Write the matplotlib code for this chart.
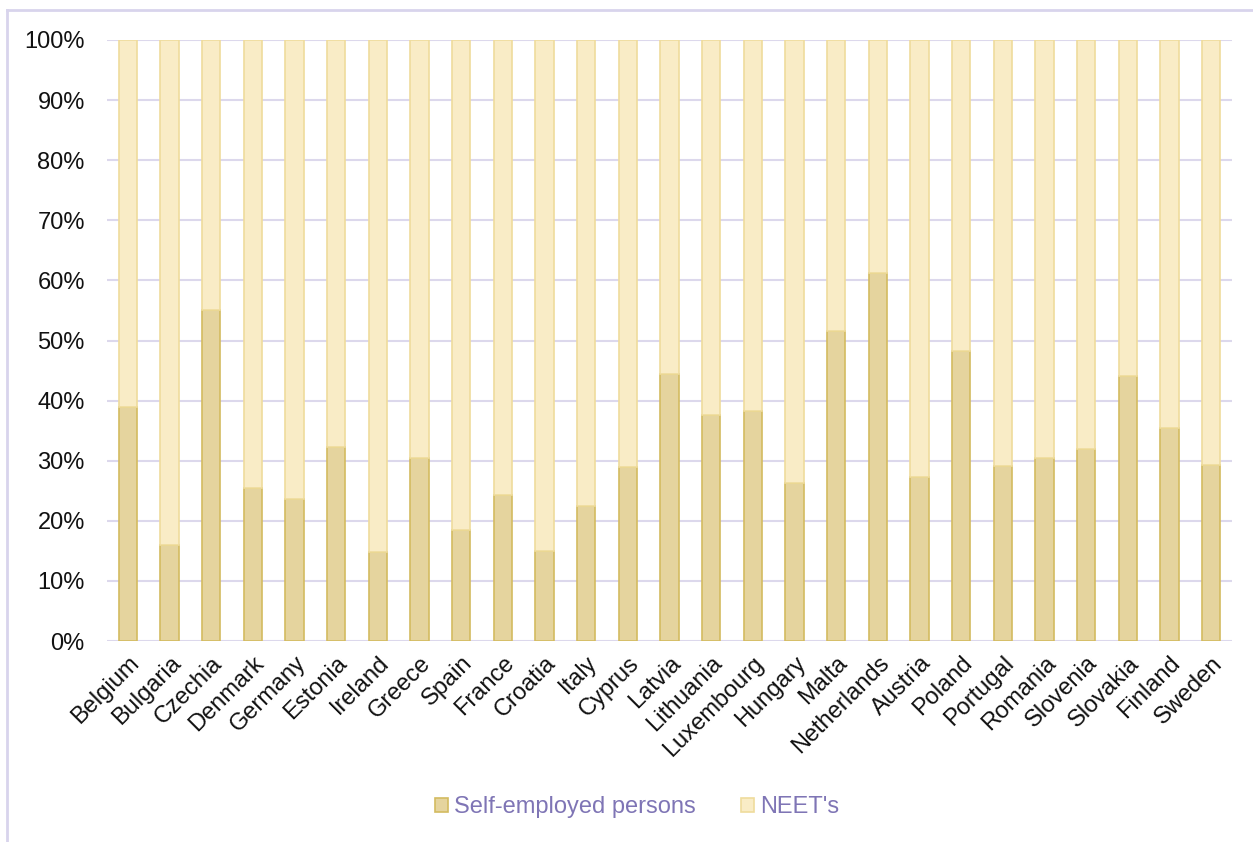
import numpy as np
import matplotlib.pyplot as plt
from matplotlib.lines import Line2D
from matplotlib.patches import Patch

plt.rcParams['font.family'] = ['Liberation Sans', 'DejaVu Sans']

countries = ['Belgium', 'Bulgaria', 'Czechia', 'Denmark', 'Germany', 'Estonia',
             'Ireland', 'Greece', 'Spain', 'France', 'Croatia', 'Italy', 'Cyprus',
             'Latvia', 'Lithuania', 'Luxembourg', 'Hungary', 'Malta', 'Netherlands',
             'Austria', 'Poland', 'Portugal', 'Romania', 'Slovenia', 'Slovakia',
             'Finland', 'Sweden']
self_employed = [38.9, 15.9, 55.0, 25.5, 23.6, 32.2, 14.8, 30.4, 18.5, 24.3,
                 14.9, 22.4, 29.0, 44.4, 37.6, 38.3, 26.3, 51.5, 61.3, 27.3,
                 48.3, 29.1, 30.5, 31.9, 44.1, 35.4, 29.3]
neets = [100 - v for v in self_employed]

fig = plt.figure(figsize=(12.53, 8.42), dpi=100)
ax = fig.add_axes([107 / 1253, 1 - 641 / 842, (1232 - 107) / 1253, 601 / 842])

x = np.arange(len(countries))
w = 0.44
c_self, e_self = '#e5d49e', '#d3bb60'
c_neet, e_neet = '#f9ecc6', '#efdc9c'

ax.bar(x, self_employed, w, color=c_self, edgecolor=e_self, linewidth=1.2, zorder=3)
ax.bar(x, neets, w, bottom=self_employed, color=c_neet, edgecolor=e_neet,
       linewidth=1.2, zorder=3)

ax.set_xlim(-0.5, len(countries) - 0.5)
ax.set_ylim(0, 100)
ax.set_yticks(np.arange(0, 101, 10))
ax.set_yticklabels([f'{t}%' for t in range(0, 101, 10)], fontsize=17, color='#111111')
ax.set_xticks(x)
ax.set_xticklabels(countries, rotation=45, ha='right', rotation_mode='anchor',
                   fontsize=17, color='#111111')
ax.tick_params(length=0, axis='y', pad=16)
ax.tick_params(length=0, axis='x', pad=8)
ax.grid(axis='y', color='#dcd8ec', linewidth=1.5, zorder=0)
for s in ax.spines.values():
    s.set_visible(False)

# lavender frame along top and left of the figure
fig.add_artist(Line2D([7 / 1253, 7 / 1253], [0, 1 - 10 / 842], color='#d8d4ec',
                      linewidth=2, transform=fig.transFigure))
fig.add_artist(Line2D([7 / 1253, 1], [1 - 10 / 842, 1 - 10 / 842], color='#d8d4ec',
                      linewidth=2, transform=fig.transFigure))

handles = [Patch(facecolor=c_self, edgecolor=e_self, linewidth=1.2),
           Patch(facecolor=c_neet, edgecolor=e_neet, linewidth=1.2)]
leg = fig.legend(handles, ['Self-employed persons', "NEET's"], loc='center',
                 bbox_to_anchor=(637 / 1253, 1 - 807 / 842), ncol=2, frameon=False,
                 fontsize=17, handlelength=0.55, handleheight=0.55, handletextpad=0.25,
                 columnspacing=1.9)
for t in leg.get_texts():
    t.set_color('#7f75b5')

fig.savefig('out.png', dpi=100)
